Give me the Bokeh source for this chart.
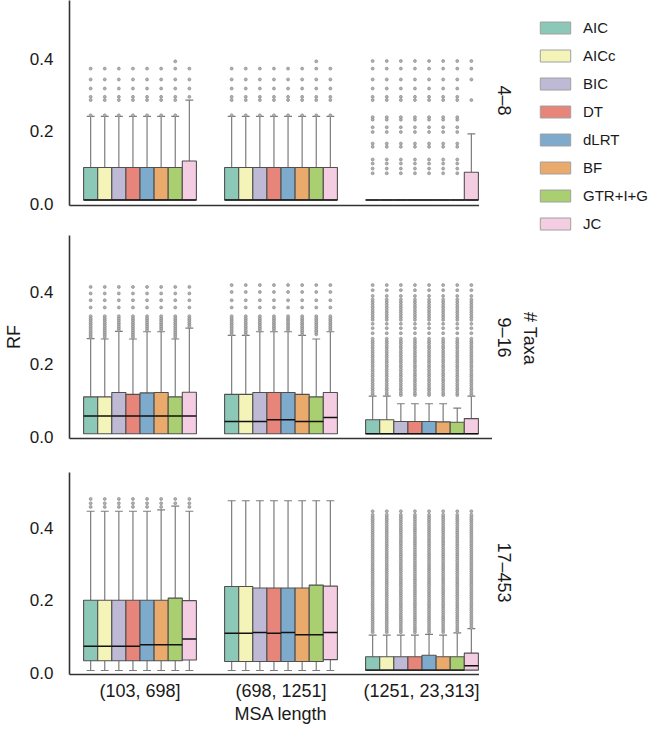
import math
from bokeh.plotting import figure
from bokeh.models import (ColumnDataSource, Range1d, FixedTicker, PrintfTickFormatter,
                          Legend, LegendItem, Label)
from bokeh.layouts import column, row
from bokeh.embed import file_html
from bokeh.resources import INLINE

MODELS = ["AIC", "AICc", "BIC", "DT", "dLRT", "BF", "GTR+I+G", "JC"]
COLORS = ["#8cc8b8", "#f4f4b8", "#bebad6", "#e8857a", "#7eabcb", "#eaaa6c", "#a9cf70", "#f5cde2"]
MSA_BINS = ["(103, 698]", "(698, 1251]", "(1251, 23,313]"]
TAXA = ["4–8", "9–16", "17–453"]
YTICKS = [0.0, 0.2, 0.4]

# ---- 4–8 taxa (per MSA bin, per model) ----
T1_Q1 = [[0.01, 0.01, 0.01, 0.01, 0.01, 0.01, 0.01, 0.01],
         [0.01, 0.01, 0.01, 0.01, 0.01, 0.01, 0.01, 0.01],
         [0.01, 0.01, 0.01, 0.01, 0.01, 0.01, 0.01, 0.01]]
T1_MED = [[0.01, 0.01, 0.01, 0.01, 0.01, 0.01, 0.01, 0.01],
          [0.01, 0.01, 0.01, 0.01, 0.01, 0.01, 0.01, 0.01],
          [0.01, 0.01, 0.01, 0.01, 0.01, 0.01, 0.01, 0.01]]
T1_Q3 = [[0.10, 0.10, 0.10, 0.10, 0.10, 0.10, 0.10, 0.118],
         [0.10, 0.10, 0.10, 0.10, 0.10, 0.10, 0.10, 0.10],
         [0.01, 0.01, 0.01, 0.01, 0.01, 0.01, 0.01, 0.087]]
T1_LO = [[0.01, 0.01, 0.01, 0.01, 0.01, 0.01, 0.01, 0.01],
         [0.01, 0.01, 0.01, 0.01, 0.01, 0.01, 0.01, 0.01],
         [0.01, 0.01, 0.01, 0.01, 0.01, 0.01, 0.01, 0.01]]
T1_HI = [[0.241, 0.241, 0.241, 0.241, 0.241, 0.241, 0.241, 0.286],
         [0.241, 0.241, 0.241, 0.241, 0.241, 0.241, 0.241, 0.241],
         [0.01, 0.01, 0.01, 0.01, 0.01, 0.01, 0.01, 0.193]]
T1_OUT = [[0.244, 0.286, 0.295, 0.318, 0.343, 0.373],
          [0.244, 0.286, 0.295, 0.318, 0.343, 0.373],
          [0.084, 0.097, 0.111, 0.122, 0.157, 0.166, 0.198, 0.211, 0.232, 0.239,
           0.286, 0.295, 0.318, 0.343, 0.373, 0.394]]
T1_EXTRA = {(0, 6): [0.393], (1, 6): [0.393]}
T1_OVERRIDE = {(2, 7): [0.286, 0.343, 0.373, 0.394]}

# ---- 9–16 taxa ----
T2_Q1 = [[0.008, 0.008, 0.008, 0.008, 0.008, 0.008, 0.008, 0.008],
         [0.008, 0.008, 0.008, 0.008, 0.008, 0.008, 0.008, 0.008],
         [0.008, 0.008, 0.008, 0.008, 0.008, 0.008, 0.008, 0.008]]
T2_MED = [[0.057, 0.057, 0.057, 0.057, 0.057, 0.057, 0.057, 0.057],
          [0.042, 0.042, 0.042, 0.047, 0.047, 0.042, 0.042, 0.053],
          [0.008, 0.008, 0.008, 0.008, 0.008, 0.008, 0.008, 0.008]]
T2_Q3 = [[0.110, 0.110, 0.122, 0.117, 0.121, 0.122, 0.110, 0.123],
         [0.117, 0.117, 0.122, 0.122, 0.122, 0.117, 0.110, 0.122],
         [0.047, 0.047, 0.042, 0.042, 0.042, 0.041, 0.040, 0.050]]
T2_LO = [[0.008, 0.008, 0.008, 0.008, 0.008, 0.008, 0.008, 0.008],
         [0.008, 0.008, 0.008, 0.008, 0.008, 0.008, 0.008, 0.008],
         [0.008, 0.008, 0.008, 0.008, 0.008, 0.008, 0.008, 0.008]]
T2_HI = [[0.271, 0.270, 0.291, 0.270, 0.290, 0.290, 0.270, 0.300],
         [0.280, 0.280, 0.290, 0.290, 0.290, 0.280, 0.270, 0.290],
         [0.112, 0.112, 0.091, 0.091, 0.091, 0.091, 0.079, 0.112]]
T2_OUT = [[0.274, 0.279, 0.284, 0.289, 0.294, 0.300, 0.305, 0.311, 0.316, 0.322,
           0.327, 0.333, 0.357, 0.377, 0.396, 0.414],
          [0.283, 0.289, 0.294, 0.300, 0.305, 0.311, 0.316, 0.322, 0.327, 0.333,
           0.357, 0.377, 0.400, 0.419],
          [0.115, 0.121, 0.128, 0.134, 0.141, 0.147, 0.154, 0.160, 0.167, 0.173,
           0.180, 0.186, 0.193, 0.199, 0.206, 0.212, 0.219, 0.225, 0.232, 0.238,
           0.245, 0.251, 0.258, 0.264, 0.271, 0.286, 0.300, 0.312, 0.323, 0.330,
           0.337, 0.344, 0.351, 0.358, 0.365, 0.372, 0.379, 0.389, 0.405, 0.419]]
T2_EXTRA = {}
T2_OVERRIDE = {}

# ---- 17–453 taxa ----
T3_Q1 = [[0.033, 0.033, 0.033, 0.033, 0.033, 0.033, 0.033, 0.035],
         [0.031, 0.031, 0.031, 0.031, 0.031, 0.031, 0.031, 0.036],
         [0.007, 0.007, 0.007, 0.007, 0.007, 0.007, 0.007, 0.007]]
T3_MED = [[0.073, 0.073, 0.073, 0.073, 0.077, 0.077, 0.077, 0.093],
          [0.109, 0.109, 0.111, 0.109, 0.111, 0.105, 0.105, 0.111],
          [0.007, 0.007, 0.007, 0.007, 0.007, 0.007, 0.007, 0.019]]
T3_Q3 = [[0.200, 0.200, 0.200, 0.200, 0.200, 0.200, 0.206, 0.199],
         [0.238, 0.238, 0.234, 0.234, 0.234, 0.234, 0.242, 0.239],
         [0.044, 0.044, 0.044, 0.044, 0.048, 0.044, 0.044, 0.054]]
T3_LO = [[0.006, 0.006, 0.006, 0.006, 0.006, 0.006, 0.006, 0.006],
         [0.006, 0.006, 0.006, 0.006, 0.006, 0.006, 0.006, 0.006],
         [0.007, 0.007, 0.007, 0.007, 0.007, 0.007, 0.007, 0.007]]
T3_HI = [[0.446, 0.446, 0.446, 0.446, 0.446, 0.450, 0.460, 0.446],
         [0.475, 0.475, 0.475, 0.475, 0.475, 0.475, 0.475, 0.475],
         [0.104, 0.104, 0.104, 0.104, 0.106, 0.104, 0.110, 0.122]]
T3_OUT = [[0.458, 0.468, 0.480],
          [],
          [0.112, 0.118, 0.124, 0.130, 0.136, 0.142, 0.148, 0.154, 0.160, 0.166,
           0.172, 0.178, 0.184, 0.190, 0.196, 0.202, 0.208, 0.214, 0.220, 0.226,
           0.232, 0.238, 0.244, 0.250, 0.256, 0.262, 0.268, 0.274, 0.280, 0.286,
           0.292, 0.298, 0.304, 0.310, 0.316, 0.322, 0.328, 0.334, 0.340, 0.346,
           0.352, 0.358, 0.364, 0.370, 0.376, 0.382, 0.388, 0.394, 0.400, 0.406,
           0.412, 0.418, 0.424, 0.430, 0.436, 0.446]]
T3_EXTRA = {}
T3_OVERRIDE = {}

FONT = "Liberation Sans"
FRAME_W = 423
BOX_W = 0.1
CAP_HALF = 0.028
BOX_LINE = "#505050"
WHISK = "#7c7c7c"
AXIS_C = "#333333"
TXT = "#1a1a1a"


def make_panel(q1, med, q3, lo, hi, outs, extra, override,
               fh, ytop, btop, bbot, last=False, ylabel=None):
    p = figure(frame_width=FRAME_W, frame_height=fh,
               x_range=Range1d(-0.5, 2.5), y_range=Range1d(-0.005, ytop),
               output_backend="svg", toolbar_location=None,
               min_border_left=56, min_border_right=0,
               min_border_top=btop, min_border_bottom=bbot)
    p.outline_line_color = None
    p.grid.visible = False
    p.background_fill_color = "white"
    p.border_fill_color = "white"

    xs, a, m, c, cols = [], [], [], [], []
    wx, wy0, wy1 = [], [], []
    cx0, cx1, cy = [], [], []
    ox, oy = [], []
    for b in range(3):
        for i in range(8):
            x = b + (i - 3.5) * BOX_W
            xs.append(x); a.append(q1[b][i]); m.append(med[b][i]); c.append(q3[b][i])
            cols.append(COLORS[i])
            if hi[b][i] > q3[b][i]:
                wx.append(x); wy0.append(q3[b][i]); wy1.append(hi[b][i])
                cx0.append(x - CAP_HALF); cx1.append(x + CAP_HALF); cy.append(hi[b][i])
            if lo[b][i] < q1[b][i]:
                wx.append(x); wy0.append(q1[b][i]); wy1.append(lo[b][i])
                cx0.append(x - CAP_HALF); cx1.append(x + CAP_HALF); cy.append(lo[b][i])
            if (b, i) in override:
                vals = override[(b, i)]
            else:
                vals = [v for v in outs[b] if v > hi[b][i]] + extra.get((b, i), [])
            for v in vals:
                ox.append(x); oy.append(v)

    p.segment(x0="x", y0="y0", x1="x", y1="y1", line_color=WHISK, line_width=1.2,
              source=ColumnDataSource(dict(x=wx, y0=wy0, y1=wy1)))
    p.segment(x0="x0", y0="y", x1="x1", y1="y", line_color=WHISK, line_width=1.2,
              source=ColumnDataSource(dict(x0=cx0, x1=cx1, y=cy)))
    src = ColumnDataSource(dict(x=xs, q1=a, med=m, q3=c, color=cols,
                                mx0=[v - BOX_W / 2 for v in xs], mx1=[v + BOX_W / 2 for v in xs]))
    p.vbar(x="x", width=BOX_W, bottom="q1", top="q3", fill_color="color",
           line_color=BOX_LINE, line_width=1.1, source=src)
    p.segment(x0="mx0", y0="med", x1="mx1", y1="med", line_color="#111111",
              line_width=1.4, source=src)
    p.scatter(x="x", y="y", size=3.0, marker="circle", fill_color="#b0b0b0",
              line_color="#858585", line_width=0.6,
              source=ColumnDataSource(dict(x=ox, y=oy)))

    # axes
    p.yaxis.ticker = FixedTicker(ticks=YTICKS)
    p.yaxis.formatter = PrintfTickFormatter(format="%.1f")
    p.yaxis.major_tick_line_color = None
    p.yaxis.minor_tick_line_color = None
    p.yaxis.major_label_standoff = 10
    p.yaxis.major_label_text_font = FONT
    p.yaxis.major_label_text_font_size = "17px"
    p.yaxis.major_label_text_color = TXT
    p.yaxis.axis_line_color = AXIS_C
    p.yaxis.axis_line_width = 1.6
    if ylabel:
        p.yaxis.axis_label = ylabel
        p.yaxis.axis_label_text_font = FONT
        p.yaxis.axis_label_text_font_size = "18px"
        p.yaxis.axis_label_text_font_style = "normal"
        p.yaxis.axis_label_text_color = TXT
        p.yaxis.axis_label_standoff = 3

    p.xaxis.major_tick_line_color = None
    p.xaxis.minor_tick_line_color = None
    p.xaxis.axis_line_color = AXIS_C
    p.xaxis.axis_line_width = 1.6
    if last:
        p.xaxis.ticker = FixedTicker(ticks=[0, 1, 2])
        p.xaxis.major_label_overrides = {0: MSA_BINS[0], 1: MSA_BINS[1], 2: MSA_BINS[2]}
        p.xaxis.major_label_text_font = FONT
        p.xaxis.major_label_text_font_size = "18px"
        p.xaxis.major_label_text_color = TXT
        p.xaxis.major_label_standoff = 0
        p.xaxis.axis_label = "MSA length"
        p.xaxis.axis_label_text_font = FONT
        p.xaxis.axis_label_text_font_size = "18px"
        p.xaxis.axis_label_text_font_style = "normal"
        p.xaxis.axis_label_text_color = TXT
        p.xaxis.axis_label_standoff = 0
    else:
        p.xaxis.ticker = FixedTicker(ticks=[])
        p.xaxis.major_label_standoff = 0
    return p


p1 = make_panel(T1_Q1, T1_MED, T1_Q3, T1_LO, T1_HI, T1_OUT, T1_EXTRA, T1_OVERRIDE,
                205, 0.561, 0, 25)
p2 = make_panel(T2_Q1, T2_MED, T2_Q3, T2_LO, T2_HI, T2_OUT, T2_EXTRA, T2_OVERRIDE,
                203, 0.556, 5, 29, ylabel="RF")
p3 = make_panel(T3_Q1, T3_MED, T3_Q3, T3_LO, T3_HI, T3_OUT, T3_EXTRA, T3_OVERRIDE,
                202, 0.553, 5, 55, last=True)

# side figure: row labels, "# Taxa", legend (data units == pixels)
LW, LH = 157, 729
lf = figure(width=LW, height=LH, x_range=Range1d(0, LW), y_range=Range1d(0, LH),
            output_backend="svg", toolbar_location=None,
            min_border_left=0, min_border_right=0, min_border_top=0, min_border_bottom=0)
lf.axis.visible = False
lf.grid.visible = False
lf.outline_line_color = None
items = []
for name, col in zip(MODELS, COLORS):
    r = lf.vbar(x=[-1000], top=[-1000], width=1, fill_color=col,
                line_color="#a0a0a0", line_width=1)
    items.append(LegendItem(label=name, renderers=[r]))
leg = Legend(items=items, location=(44, 497), margin=0, padding=0, spacing=11,
             glyph_width=38, glyph_height=15, label_standoff=9,
             label_text_font=FONT, label_text_font_size="15px", label_text_color=TXT,
             border_line_color=None, background_fill_alpha=0)
lf.add_layout(leg)

ROW_Y = [629, 392, 157]
for lab, yy in zip(TAXA, ROW_Y):
    lf.add_layout(Label(x=11, y=yy, text=lab, angle=-math.pi / 2,
                        text_align="center", text_baseline="middle", text_font=FONT,
                        text_font_size="18px", text_color=TXT))
lf.add_layout(Label(x=37, y=391, text="# Taxa", angle=-math.pi / 2,
                    text_align="center", text_baseline="middle", text_font=FONT,
                    text_font_size="18px", text_color=TXT))

layout = row(column(p1, p2, p3), lf)
open("out.html", "w").write(file_html(layout, INLINE))
